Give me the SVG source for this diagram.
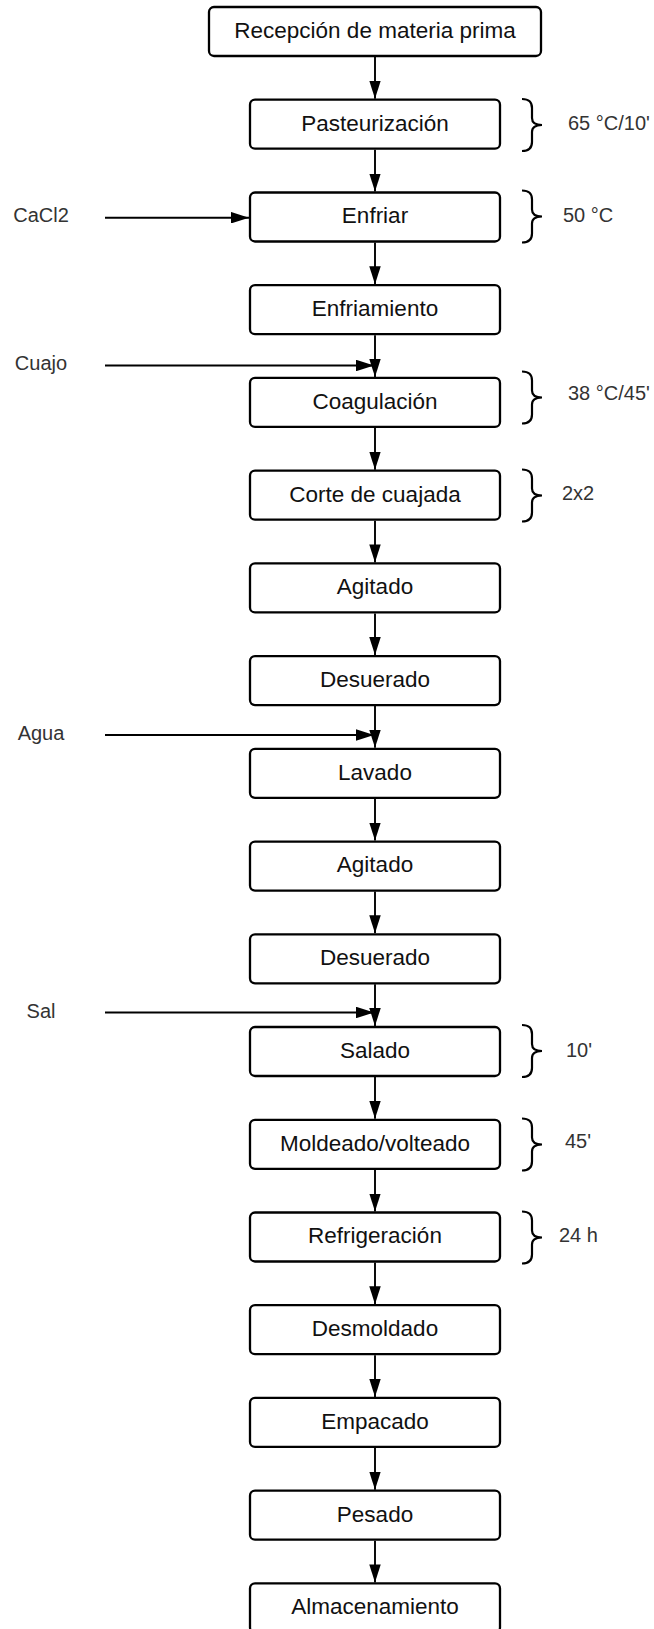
<svg xmlns="http://www.w3.org/2000/svg" xmlns:xlink="http://www.w3.org/1999/xlink" width="654" height="1629" viewBox="0 0 654 1629">
<style>
.box{fill:#fff;stroke:#000;stroke-width:2.3}
.bt{font-family:"Liberation Sans",Arial,sans-serif;font-size:22.5px;fill:#111;text-anchor:middle}
.lb{font-family:"Liberation Sans",Arial,sans-serif;font-size:20px;fill:#333}
.lc{text-anchor:middle}
.ar{stroke:#000;stroke-width:1.9;fill:none;marker-end:url(#ah)}
.br{stroke:#000;stroke-width:2.2;fill:none}
</style>
<defs>
<marker id="ah" viewBox="0 0 18 11.5" refX="18" refY="5.75" markerWidth="18" markerHeight="11.5" markerUnits="userSpaceOnUse" orient="auto">
<path d="M0,0 L18,5.75 L0,11.5 z" fill="#000"/>
</marker>
<path id="brace" d="M0,0 C7,0 10,3 10,9 L10,19 C10,23.5 13,26 20,26 C13,26 10,28.5 10,33 L10,43 C10,49 7,52 0,52"/>
</defs>
<rect width="654" height="1629" fill="#fff"/>

<g id="connectors">
<line class="ar" x1="375" y1="57" x2="375" y2="98.7"/>
<line class="ar" x1="375" y1="149.7" x2="375" y2="191.5"/>
<line class="ar" x1="375" y1="242.5" x2="375" y2="284.2"/>
<line class="ar" x1="375" y1="335.2" x2="375" y2="376.9"/>
<line class="ar" x1="375" y1="427.9" x2="375" y2="469.7"/>
<line class="ar" x1="375" y1="520.7" x2="375" y2="562.4"/>
<line class="ar" x1="375" y1="613.4" x2="375" y2="655.1"/>
<line class="ar" x1="375" y1="706.1" x2="375" y2="747.8"/>
<line class="ar" x1="375" y1="798.8" x2="375" y2="840.6"/>
<line class="ar" x1="375" y1="891.6" x2="375" y2="933.3"/>
<line class="ar" x1="375" y1="984.3" x2="375" y2="1026"/>
<line class="ar" x1="375" y1="1077" x2="375" y2="1118.8"/>
<line class="ar" x1="375" y1="1169.8" x2="375" y2="1211.5"/>
<line class="ar" x1="375" y1="1262.5" x2="375" y2="1304.2"/>
<line class="ar" x1="375" y1="1355.2" x2="375" y2="1396.9"/>
<line class="ar" x1="375" y1="1447.9" x2="375" y2="1489.7"/>
<line class="ar" x1="375" y1="1540.7" x2="375" y2="1582.4"/>
<line class="ar" x1="105" y1="217.7" x2="249" y2="217.7"/>
<line class="ar" x1="105" y1="365.5" x2="374" y2="365.5"/>
<line class="ar" x1="105" y1="735" x2="374" y2="735"/>
<line class="ar" x1="105" y1="1012.5" x2="374" y2="1012.5"/>
</g>

<g id="inputs">
<text class="lb lc" x="41" y="222">CaCl2</text>
<text class="lb lc" x="41" y="370">Cuajo</text>
<text class="lb lc" x="41" y="740">Agua</text>
<text class="lb lc" x="41" y="1017.5">Sal</text>
</g>

<g id="n0"><rect class="box" x="209" y="7" width="332" height="49" rx="5"/><text class="bt" x="375" y="38">Recepción de materia prima</text></g>
<g id="n1"><rect class="box" x="250" y="99.7" width="250" height="49" rx="5"/><text class="bt" x="375" y="130.5">Pasteurización</text></g>
<g id="n2"><rect class="box" x="250" y="192.5" width="250" height="49" rx="5"/><text class="bt" x="375" y="223.3">Enfriar</text></g>
<g id="n3"><rect class="box" x="250" y="285.2" width="250" height="49" rx="5"/><text class="bt" x="375" y="316">Enfriamiento</text></g>
<g id="n4"><rect class="box" x="250" y="377.9" width="250" height="49" rx="5"/><text class="bt" x="375" y="408.7">Coagulación</text></g>
<g id="n5"><rect class="box" x="250" y="470.7" width="250" height="49" rx="5"/><text class="bt" x="375" y="501.5">Corte de cuajada</text></g>
<g id="n6"><rect class="box" x="250" y="563.4" width="250" height="49" rx="5"/><text class="bt" x="375" y="594.2">Agitado</text></g>
<g id="n7"><rect class="box" x="250" y="656.1" width="250" height="49" rx="5"/><text class="bt" x="375" y="686.9">Desuerado</text></g>
<g id="n8"><rect class="box" x="250" y="748.8" width="250" height="49" rx="5"/><text class="bt" x="375" y="779.6">Lavado</text></g>
<g id="n9"><rect class="box" x="250" y="841.6" width="250" height="49" rx="5"/><text class="bt" x="375" y="872.4">Agitado</text></g>
<g id="n10"><rect class="box" x="250" y="934.3" width="250" height="49" rx="5"/><text class="bt" x="375" y="965.1">Desuerado</text></g>
<g id="n11"><rect class="box" x="250" y="1027" width="250" height="49" rx="5"/><text class="bt" x="375" y="1057.8">Salado</text></g>
<g id="n12"><rect class="box" x="250" y="1119.8" width="250" height="49" rx="5"/><text class="bt" x="375" y="1150.6">Moldeado/volteado</text></g>
<g id="n13"><rect class="box" x="250" y="1212.5" width="250" height="49" rx="5"/><text class="bt" x="375" y="1243.3">Refrigeración</text></g>
<g id="n14"><rect class="box" x="250" y="1305.2" width="250" height="49" rx="5"/><text class="bt" x="375" y="1336">Desmoldado</text></g>
<g id="n15"><rect class="box" x="250" y="1397.9" width="250" height="49" rx="5"/><text class="bt" x="375" y="1428.7">Empacado</text></g>
<g id="n16"><rect class="box" x="250" y="1490.7" width="250" height="49" rx="5"/><text class="bt" x="375" y="1521.5">Pesado</text></g>
<g id="n17"><rect class="box" x="250" y="1583.4" width="250" height="49" rx="5"/><text class="bt" x="375" y="1614.2">Almacenamiento</text></g>

<g id="conditions">
<use xlink:href="#brace" href="#brace" class="br" x="522" y="99"/>
<text class="lb" x="568" y="130">65 °C/10'</text>
<use xlink:href="#brace" href="#brace" class="br" x="522" y="190.5"/>
<text class="lb" x="563" y="222">50 °C</text>
<use xlink:href="#brace" href="#brace" class="br" x="522" y="371.5"/>
<text class="lb" x="568" y="400">38 °C/45'</text>
<use xlink:href="#brace" href="#brace" class="br" x="522" y="469.5"/>
<text class="lb" x="562" y="500">2x2</text>
<use xlink:href="#brace" href="#brace" class="br" x="522" y="1025"/>
<text class="lb" x="566" y="1056.7">10'</text>
<use xlink:href="#brace" href="#brace" class="br" x="522" y="1118.5"/>
<text class="lb" x="565" y="1148.3">45'</text>
<use xlink:href="#brace" href="#brace" class="br" x="522" y="1211.5"/>
<text class="lb" x="559" y="1241.7">24 h</text>
</g>
</svg>
